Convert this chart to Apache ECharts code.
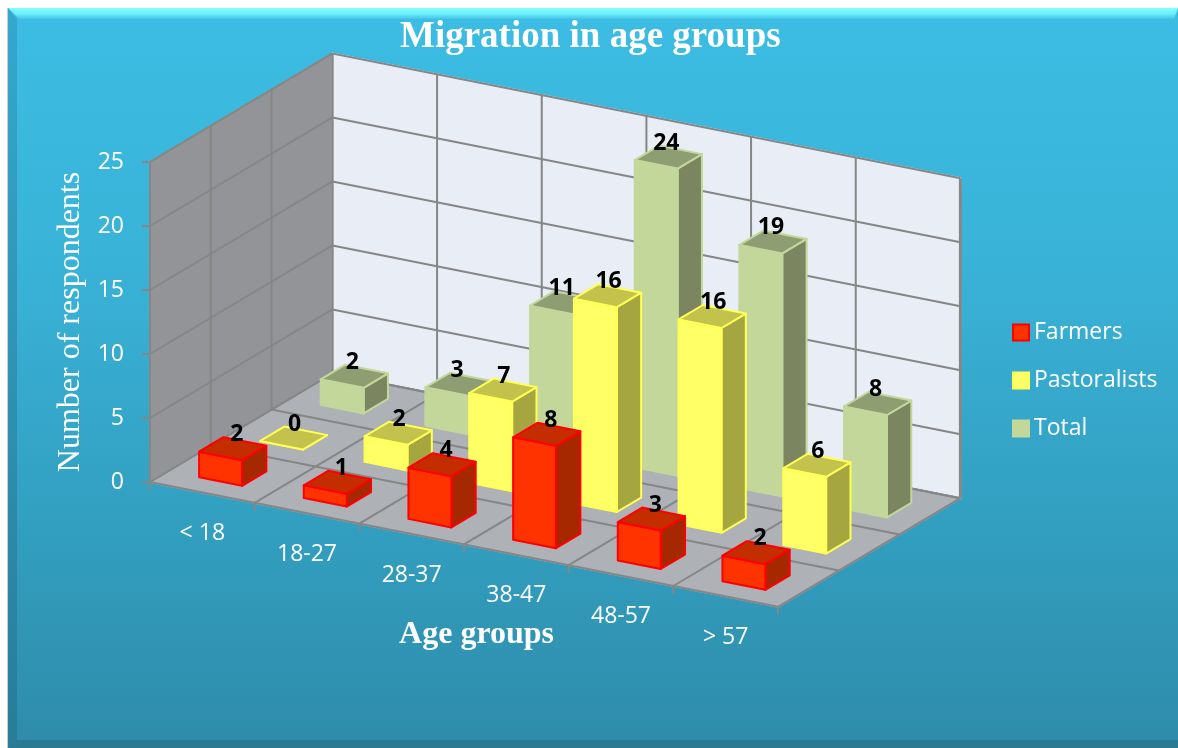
<!DOCTYPE html>
<html>
<head>
<meta charset="utf-8">
<title>Migration in age groups</title>
<style>
  html, body { margin: 0; padding: 0; background: #fff; }
  #chart { width: 1178px; height: 748px; }
</style>
<script src="https://cdn.jsdelivr.net/npm/echarts@6/dist/echarts.min.js"></script>
</head>
<body>
<div id="chart"></div>
<script>
var categories = ['< 18', '18-27', '28-37', '38-47', '48-57', '> 57']
var farmers = [2, 1, 4, 8, 3, 2]
var pastoralists = [0, 2, 7, 16, 16, 6]
var total = [2, 3, 11, 24, 19, 8]
var valueTicks = [0, 5, 10, 15, 20, 25]

// oblique view: how far one category / one series row moves a point on screen
var SHEAR_Y = 20.8
var DEPTH_X = 60.8
var DEPTH_Y = -36.2
var BAR_W = 0.41
var BAR_D = 0.40
var ROWS = 3

var GRID_LINE = '#868686'
var LABEL_FONT = '"Open Sans", sans-serif'
var SERIF_FONT = '"Liberation Serif", serif'

function project(api, cat, row, value) {
  var p = api.coord([cat, value])
  return [p[0] + row * DEPTH_X, p[1] + cat * SHEAR_Y + row * DEPTH_Y]
}

function line(a, b, width) {
  return {
    type: 'line',
    shape: { x1: a[0], y1: a[1], x2: b[0], y2: b[1] },
    style: { stroke: GRID_LINE, lineWidth: width || 2 }
  }
}

function poly(points, fill, stroke) {
  return {
    type: 'polygon',
    shape: { points: points },
    style: { fill: fill, stroke: stroke || fill, lineWidth: 2, lineJoin: 'round' }
  }
}

function renderWalls(params, api) {
  var n = categories.length
  var top = valueTicks[valueTicks.length - 1]
  var kids = []
  // left wall, back wall, floor
  kids.push(poly([project(api, 0, 0, 0), project(api, 0, ROWS, 0), project(api, 0, ROWS, top), project(api, 0, 0, top)], '#939497', '#939497'))
  kids.push(poly([project(api, 0, ROWS, 0), project(api, n, ROWS, 0), project(api, n, ROWS, top), project(api, 0, ROWS, top)], '#E9EDF6', '#E9EDF6'))
  kids.push(poly([project(api, 0, 0, 0), project(api, n, 0, 0), project(api, n, ROWS, 0), project(api, 0, ROWS, 0)], '#AEB1B6', '#AEB1B6'))
  valueTicks.forEach(function (v) {
    kids.push(line(project(api, 0, 0, v), project(api, 0, ROWS, v)))
    kids.push(line(project(api, 0, ROWS, v), project(api, n, ROWS, v)))
  })
  for (var r = 0; r <= ROWS; r++) {
    kids.push(line(project(api, 0, r, 0), project(api, 0, r, top)))
    kids.push(line(project(api, 0, r, 0), project(api, n, r, 0)))
  }
  for (var c = 0; c <= n; c++) {
    kids.push(line(project(api, c, 0, 0), project(api, c, ROWS, 0)))
    kids.push(line(project(api, c, ROWS, 0), project(api, c, ROWS, top), c === n ? 3 : 2))
    var foot = project(api, c, 0, 0)
    kids.push(line(foot, [foot[0], foot[1] + 8]))
  }
  categories.forEach(function (name, i) {
    var p = project(api, i + 0.5, 0, 0)
    kids.push({
      type: 'text',
      style: { text: name, x: p[0], y: p[1] + 41, fill: '#fff', font: '23px ' + LABEL_FONT, align: 'center', verticalAlign: 'middle' }
    })
  })
  var nameAt = project(api, 3.12, 0, 0)
  kids.push({
    type: 'text',
    style: { text: 'Age groups', x: nameAt[0], y: nameAt[1] + 88, fill: '#fff', font: 'bold 32px ' + SERIF_FONT, align: 'center', verticalAlign: 'middle' }
  })
  return { type: 'group', children: kids }
}

function barRenderer(row, colors) {
  return function (params, api) {
    var i = api.value(0)
    var v = api.value(1)
    var c0 = i + (1 - BAR_W) / 2
    var c1 = c0 + BAR_W
    var r0 = row + (1 - BAR_D) / 2
    var r1 = r0 + BAR_D
    var kids = [
      poly([project(api, c1, r0, 0), project(api, c1, r1, 0), project(api, c1, r1, v), project(api, c1, r0, v)], colors.side, colors.border),
      poly([project(api, c0, r0, 0), project(api, c1, r0, 0), project(api, c1, r0, v), project(api, c0, r0, v)], colors.front, colors.border),
      poly([project(api, c0, r0, v), project(api, c1, r0, v), project(api, c1, r1, v), project(api, c0, r1, v)], colors.top, colors.border)
    ]
    var mid = project(api, (c0 + c1) / 2, (r0 + r1) / 2, v)
    kids.push({
      type: 'text',
      style: { text: String(v), x: mid[0] + 4 - 3 * row, y: mid[1] - 14, fill: '#000', font: 'bold 23px ' + LABEL_FONT, align: 'center', verticalAlign: 'middle' }
    })
    return { type: 'group', children: kids }
  }
}

function barSeries(name, values, row, colors, z) {
  return {
    name: name,
    type: 'custom',
    z: z,
    clip: false,
    silent: true,
    itemStyle: { color: colors.front, borderColor: colors.border, borderWidth: 2 },
    encode: { x: 0, y: 1 },
    data: values.map(function (v, i) { return [i, v] }),
    renderItem: barRenderer(row, colors)
  }
}

var chart = echarts.init(document.getElementById('chart'))
chart.setOption({
  animation: false,
  backgroundColor: '#fff',
  graphic: [
    {
      type: 'rect', z: -10,
      shape: { x: 8, y: 8, width: 1170, height: 740 },
      style: {
        fill: new echarts.graphic.LinearGradient(0, 0, 0, 1, [
          { offset: 0, color: '#3CBDE4' },
          { offset: 0.35, color: '#39B2D7' },
          { offset: 0.7, color: '#329FC0' },
          { offset: 1, color: '#2F8BAA' }
        ])
      }
    },
    {
      type: 'polygon', z: -9,
      shape: { points: [[8, 8], [1178, 8], [1174, 19], [19, 19]] },
      style: {
        fill: new echarts.graphic.LinearGradient(0, 0, 0, 1, [
          { offset: 0, color: '#7FFFFF' },
          { offset: 0.5, color: '#6EEFFA' },
          { offset: 1, color: '#45C5E8' }
        ])
      }
    },
    {
      type: 'polygon', z: -9,
      shape: { points: [[8, 8], [17, 19], [17, 740], [8, 748]] },
      style: {
        fill: new echarts.graphic.LinearGradient(0, 0, 0, 1, [
          { offset: 0, color: '#35A8CE' },
          { offset: 1, color: '#287C97' }
        ])
      }
    },
    { type: 'polygon', z: -9, shape: { points: [[8, 748], [17, 740], [1178, 740], [1178, 748]] }, style: { fill: '#2B7A93' } },
    { type: 'rect', z: -9, shape: { x: 7, y: 8, width: 1, height: 740 }, style: { fill: '#C9CBCC' } }
  ],
  title: {
    text: 'Migration in age groups',
    left: 395,
    top: 14,
    textStyle: { color: '#fff', fontFamily: SERIF_FONT, fontWeight: 'bold', fontSize: 37 }
  },
  legend: {
    data: ['Farmers', 'Pastoralists', 'Total'],
    orient: 'vertical',
    left: 1007,
    top: 316,
    icon: 'rect',
    itemWidth: 16,
    itemHeight: 16,
    itemGap: 25,
    textStyle: { color: '#fff', fontFamily: LABEL_FONT, fontSize: 23 }
  },
  grid: { left: 150, top: 162, width: 628, height: 320 },
  xAxis: { type: 'value', min: 0, max: categories.length, show: false },
  yAxis: {
    type: 'value',
    min: 0,
    max: 25,
    interval: 5,
    name: 'Number of respondents',
    nameLocation: 'middle',
    nameGap: 60,
    nameRotate: 90,
    nameTextStyle: { color: '#fff', fontFamily: SERIF_FONT, fontSize: 32 },
    axisLine: { show: false },
    axisTick: { show: true, length: 8, lineStyle: { color: GRID_LINE, width: 2 } },
    axisLabel: { color: '#fff', fontFamily: LABEL_FONT, fontSize: 23, margin: 26, padding: [6, 0, 0, 0] },
    splitLine: { show: false }
  },
  series: [
    { type: 'custom', z: 1, clip: false, silent: true, encode: { x: 0, y: 1 }, data: [[0, 0]], renderItem: renderWalls },
    barSeries('Farmers', farmers, 0, { front: '#FF3300', side: '#A52800', top: '#C42D00', border: '#FF0000' }, 5),
    barSeries('Pastoralists', pastoralists, 1, { front: '#FFFF66', side: '#A6A640', top: '#C2C24D', border: '#FFFF55' }, 4),
    barSeries('Total', total, 2, { front: '#C4D79B', side: '#7B8661', top: '#8F9D73', border: '#C4D79B' }, 3)
  ]
})
</script>
</body>
</html>
